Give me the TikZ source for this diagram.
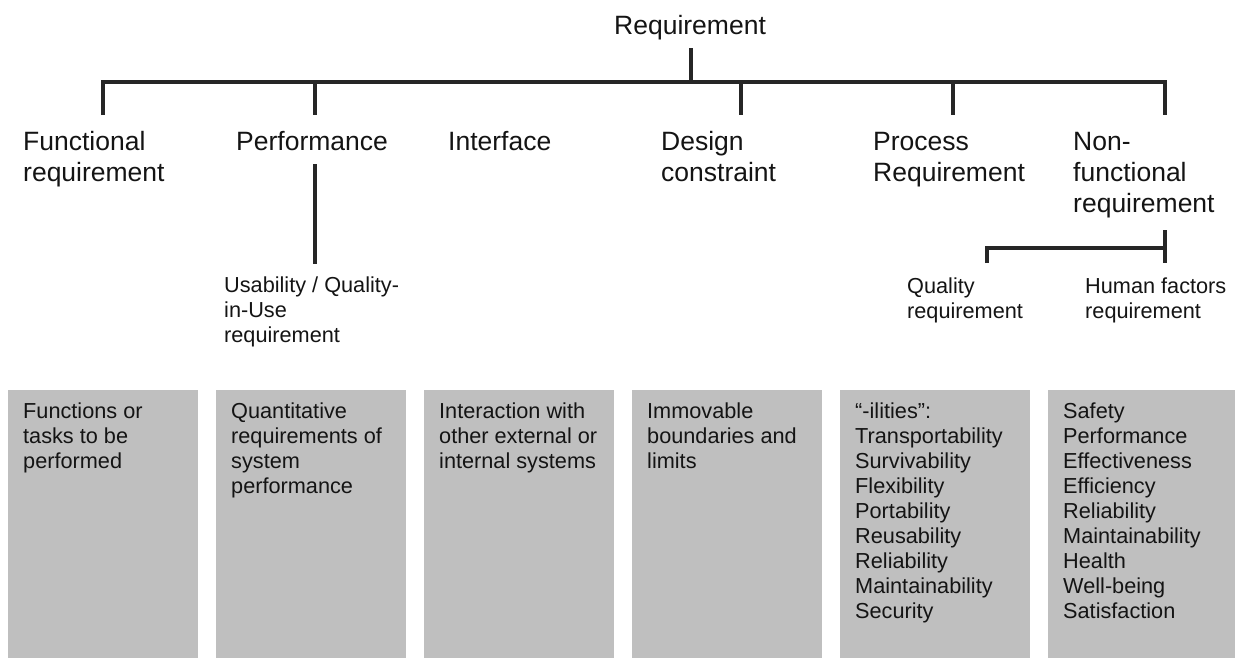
\documentclass[tikz,border=0pt]{standalone}
\usepackage{fontspec}
\setmainfont{Liberation Sans}
\definecolor{txt}{HTML}{141414}
\definecolor{ln}{HTML}{262626}
\definecolor{boxgray}{HTML}{BFBFBF}
\newcommand{\rows}[1]{\begin{tabular}[t]{@{}l@{}}#1\end{tabular}}
\begin{document}
\begin{tikzpicture}[x=1pt,y=-1pt,
  big/.style={anchor=base west, inner sep=0pt, font=\fontsize{26.5}{31}\selectfont, text=txt},
  small/.style={anchor=base west, inner sep=0pt, font=\fontsize{21.7}{25}\selectfont, text=txt},
  link/.style={line width=4pt, draw=ln},
  card/.style={fill=boxgray, draw=none, anchor=north west, minimum width=190pt, minimum height=268pt, inner sep=0pt}]
\useasboundingbox (0,0) rectangle (1235,659);

% root and first level
\node[big] (root) at (614,34) {Requirement};
\node[big] (fr) at (23,150) {\rows{Functional\\requirement}};
\node[big] (pf) at (236,150) {Performance};
\node[big] (if) at (448,150) {Interface};
\node[big] (dc) at (661,150) {\rows{Design\\constraint}};
\node[big] (pr) at (873,150) {\rows{Process\\Requirement}};
\node[big] (nf) at (1073,150) {\rows{Non-\\functional\\requirement}};

% second level
\node[small] (us) at (224,292) {\rows{Usability / Quality-\\in-Use\\requirement}};
\node[small] (qr) at (907,293) {\rows{Quality\\requirement}};
\node[small] (hf) at (1085,293) {\rows{Human factors\\requirement}};

% joints
\coordinate (top) at (691,48);
\coordinate (j0) at (691,82);
\coordinate (hL) at (103,82);
\coordinate (hR) at (1165,82);
\coordinate (c1) at (103,115);
\coordinate (c2) at (315,115);
\coordinate (c3) at (741,115);
\coordinate (c4) at (953,115);
\coordinate (c5) at (1165,115);
\coordinate (p1) at (315,164);
\coordinate (p2) at (315,264);
\coordinate (n1) at (1165,230);
\coordinate (n2) at (1165,263);
\coordinate (nm) at (1165,248);
\coordinate (q0) at (987,248);
\coordinate (q1) at (987,263);

\draw[link] (top) -- (j0);
\draw[link] (c1) -- (hL) -- (hR) -- (c5);
\draw[link] (hL -| c2) -- (c2);
\draw[link] (hL -| c3) -- (c3);
\draw[link] (hL -| c4) -- (c4);
\draw[link] (p1) -- (p2);
\draw[link] (n1) -- (n2);
\draw[link] (q1) -- (q0) -- (nm);

% description cards
\node[card] (b1) at (8,390) {};
\node[card] (b2) at (216,390) {};
\node[card] (b3) at (424,390) {};
\node[card] (b4) at (632,390) {};
\node[card] (b5) at (840,390) {};
\node[card, minimum width=187pt] (b6) at (1048,390) {};

\node[small] (t1) at (23,418) {\rows{Functions or\\tasks to be\\performed}};
\node[small] (t2) at (231,418) {\rows{Quantitative\\requirements of\\system\\performance}};
\node[small] (t3) at (439,418) {\rows{Interaction with\\other external or\\internal systems}};
\node[small] (t4) at (647,418) {\rows{Immovable\\boundaries and\\limits}};
\node[small] (t5) at (855,418) {\rows{“-ilities”:\\Transportability\\Survivability\\Flexibility\\Portability\\Reusability\\Reliability\\Maintainability\\Security}};
\node[small] (t6) at (1063,418) {\rows{Safety\\Performance\\Effectiveness\\Efficiency\\Reliability\\Maintainability\\Health\\Well-being\\Satisfaction}};
\end{tikzpicture}
\end{document}
